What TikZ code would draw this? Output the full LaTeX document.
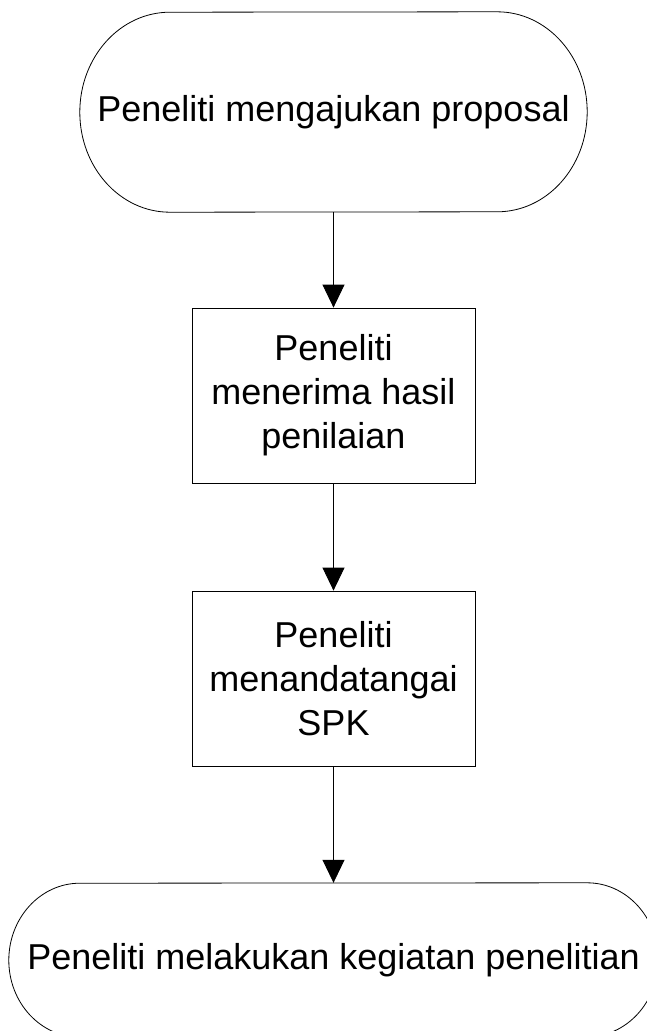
\documentclass[tikz,border=0pt]{standalone}
\usepackage{fontspec}
\setmainfont{Liberation Sans}
\usetikzlibrary{arrows.meta}
\tikzset{
  termnode/.style={shape=rectangle, inner sep=0pt, align=center, font=\fontsize{36}{44}\selectfont},
  procbox/.style={draw, line width=0.8pt, shape=rectangle, inner sep=0pt, minimum width=283pt, minimum height=175pt, align=center, font=\fontsize{36}{44}\selectfont},
  flowarrow/.style={draw, line width=0.8pt, -{Triangle[length=23pt,width=22pt]}},
  termline/.style={draw, line width=0.8pt}
}
\begin{document}
\begin{tikzpicture}[x=1pt,y=1pt]
\useasboundingbox (0,0) rectangle (647,-1031);
\clip (0,0) rectangle (647,-1031);
% top terminator
\node[termnode, minimum width=507pt, minimum height=200pt] (T1) at (333.5,-112) {Peneliti mengajukan proposal};
\draw[termline] ([xshift=-90pt]T1.north east) arc[start angle=90,end angle=-90,x radius=90pt,y radius=100pt]
  -- ([xshift=90pt]T1.south west) arc[start angle=270,end angle=90,x radius=90pt,y radius=100pt] -- cycle;
% boxes
\node[procbox] (B1) at (333.5,-395.5) {Peneliti\\menerima hasil\\penilaian};
\node[procbox] (B2) at (333.5,-678.5) {Peneliti\\menandatangai\\SPK};
% bottom terminator
\node[termnode, minimum width=649pt, minimum height=154pt] (T2) at (333.5,-960) {Peneliti melakukan kegiatan penelitian};
\draw[termline] ([xshift=-71pt]T2.north east) arc[start angle=90,end angle=-90,x radius=71pt,y radius=77pt]
  -- ([xshift=71pt]T2.south west) arc[start angle=270,end angle=90,x radius=71pt,y radius=77pt] -- cycle;
% connectors
\draw[flowarrow] (T1.south) -- (B1.north);
\draw[flowarrow] (B1.south) -- (B2.north);
\draw[flowarrow] (B2.south) -- (T2.north);
\end{tikzpicture}
\end{document}
